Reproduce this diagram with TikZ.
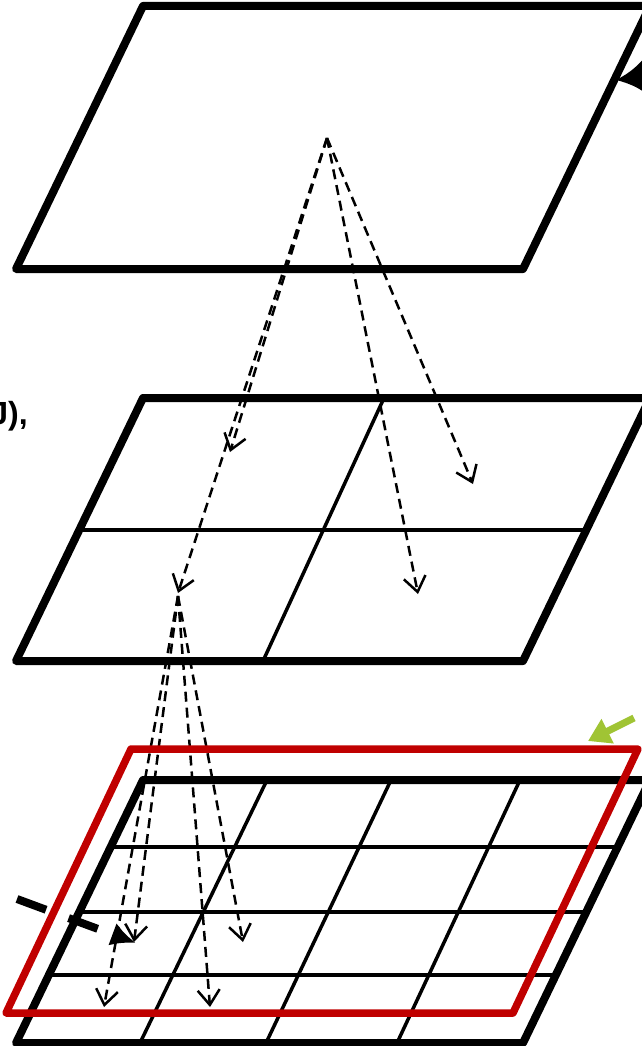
\documentclass[tikz,border=0pt]{standalone}
\usepackage{fontspec}
\setmainfont{Liberation Sans}
\usetikzlibrary{arrows.meta}
\definecolor{hlred}{RGB}{192,0,0}
\definecolor{hlgreen}{RGB}{160,196,52}
\tikzset{
  x=1pt, y=-1pt,
  frame/.style={line width=8pt, line join=round, black},
  gridline/.style={line width=3.5pt, black},
  hop/.style={line width=2.5pt, dash pattern=on 10pt off 6pt,
    -{Straight Barb[length=15pt,width=22pt,line width=2.5pt]}},
  redframe/.style={line width=7.5pt, line join=round, hlred},
  pointer/.style={line width=8pt, -{Latex[length=26pt,width=30pt]}},
  lbltext/.style={font=\bfseries\fontsize{32}{34}\selectfont, inner sep=0pt}
}
\begin{document}
\begin{tikzpicture}
\useasboundingbox (0,0) rectangle (642,1046);
\clip (0,0) rectangle (642,1046);

% top layer
\draw[frame] (16,269) -- (143,6) -- (650,6) -- (523,269) -- cycle;

% middle layer, split into 2x2 cells
\draw[frame] (16,661) -- (143,398) -- (650,398) -- (523,661) -- cycle;
\draw[gridline] (79,530) -- (586,530);
\draw[gridline] (384,398) -- (263,661);

% bottom layer, split into 4x4 cells
\draw[frame] (16,1043) -- (143,780) -- (650,780) -- (523,1043) -- cycle;
\foreach \y in {847,912,975} {
  \pgfmathsetmacro{\xl}{16+(1043-\y)*0.48289}
  \pgfmathsetmacro{\xr}{\xl+507}
  \draw[gridline] (\xl,\y) -- (\xr,\y);
}
\draw[gridline] (267,780) -- (140,1043);
\draw[gridline] (391,780) -- (266,1043);
\draw[gridline] (520,780) -- (397,1043);

% text on the left
\node[lbltext, anchor=base east] (lbl) at (28,424) {J),};

% refinement hops
\coordinate (apex) at (327,138);
\coordinate (m1) at (230,452);
\coordinate (m2) at (178,593);
\coordinate (m3) at (418,594);
\coordinate (m4) at (473,484);
\coordinate (src) at (178,596);
\coordinate (b1) at (134,942);
\coordinate (b2) at (243,942);
\coordinate (b3) at (104,1007);
\coordinate (b4) at (210,1007);

\draw[hop] (apex) -- (m1);
\draw[hop] (apex) -- (m2);
\draw[hop] (apex) -- (m3);
\draw[hop] (apex) -- (m4);
\draw[hop] (src) -- (b1);
\draw[hop] (src) -- (b2);
\draw[hop] (src) -- (b3);
\draw[hop] (src) -- (b4);

% highlighted region
\draw[redframe] (6,1013) -- (131,749) -- (638,749) -- (513,1013) -- cycle;

% pointers
\coordinate (tr0) at (720,68);
\coordinate (tr1) at (616,80);
\draw[pointer, -{Latex[length=28pt,width=34pt]}] (tr0) -- (tr1);

\coordinate (bl0) at (17,899);
\coordinate (bl1) at (136,943);
\draw[pointer, dash pattern=on 31pt off 24pt,
  -{Latex[length=25pt,width=24pt]}] (bl0) -- (bl1);

\coordinate (g0) at (634,718);
\coordinate (g1) at (588,741);
\draw[line width=7pt, hlgreen, -{Triangle[length=22pt,width=26pt]}] (g0) -- (g1);
\end{tikzpicture}
\end{document}
